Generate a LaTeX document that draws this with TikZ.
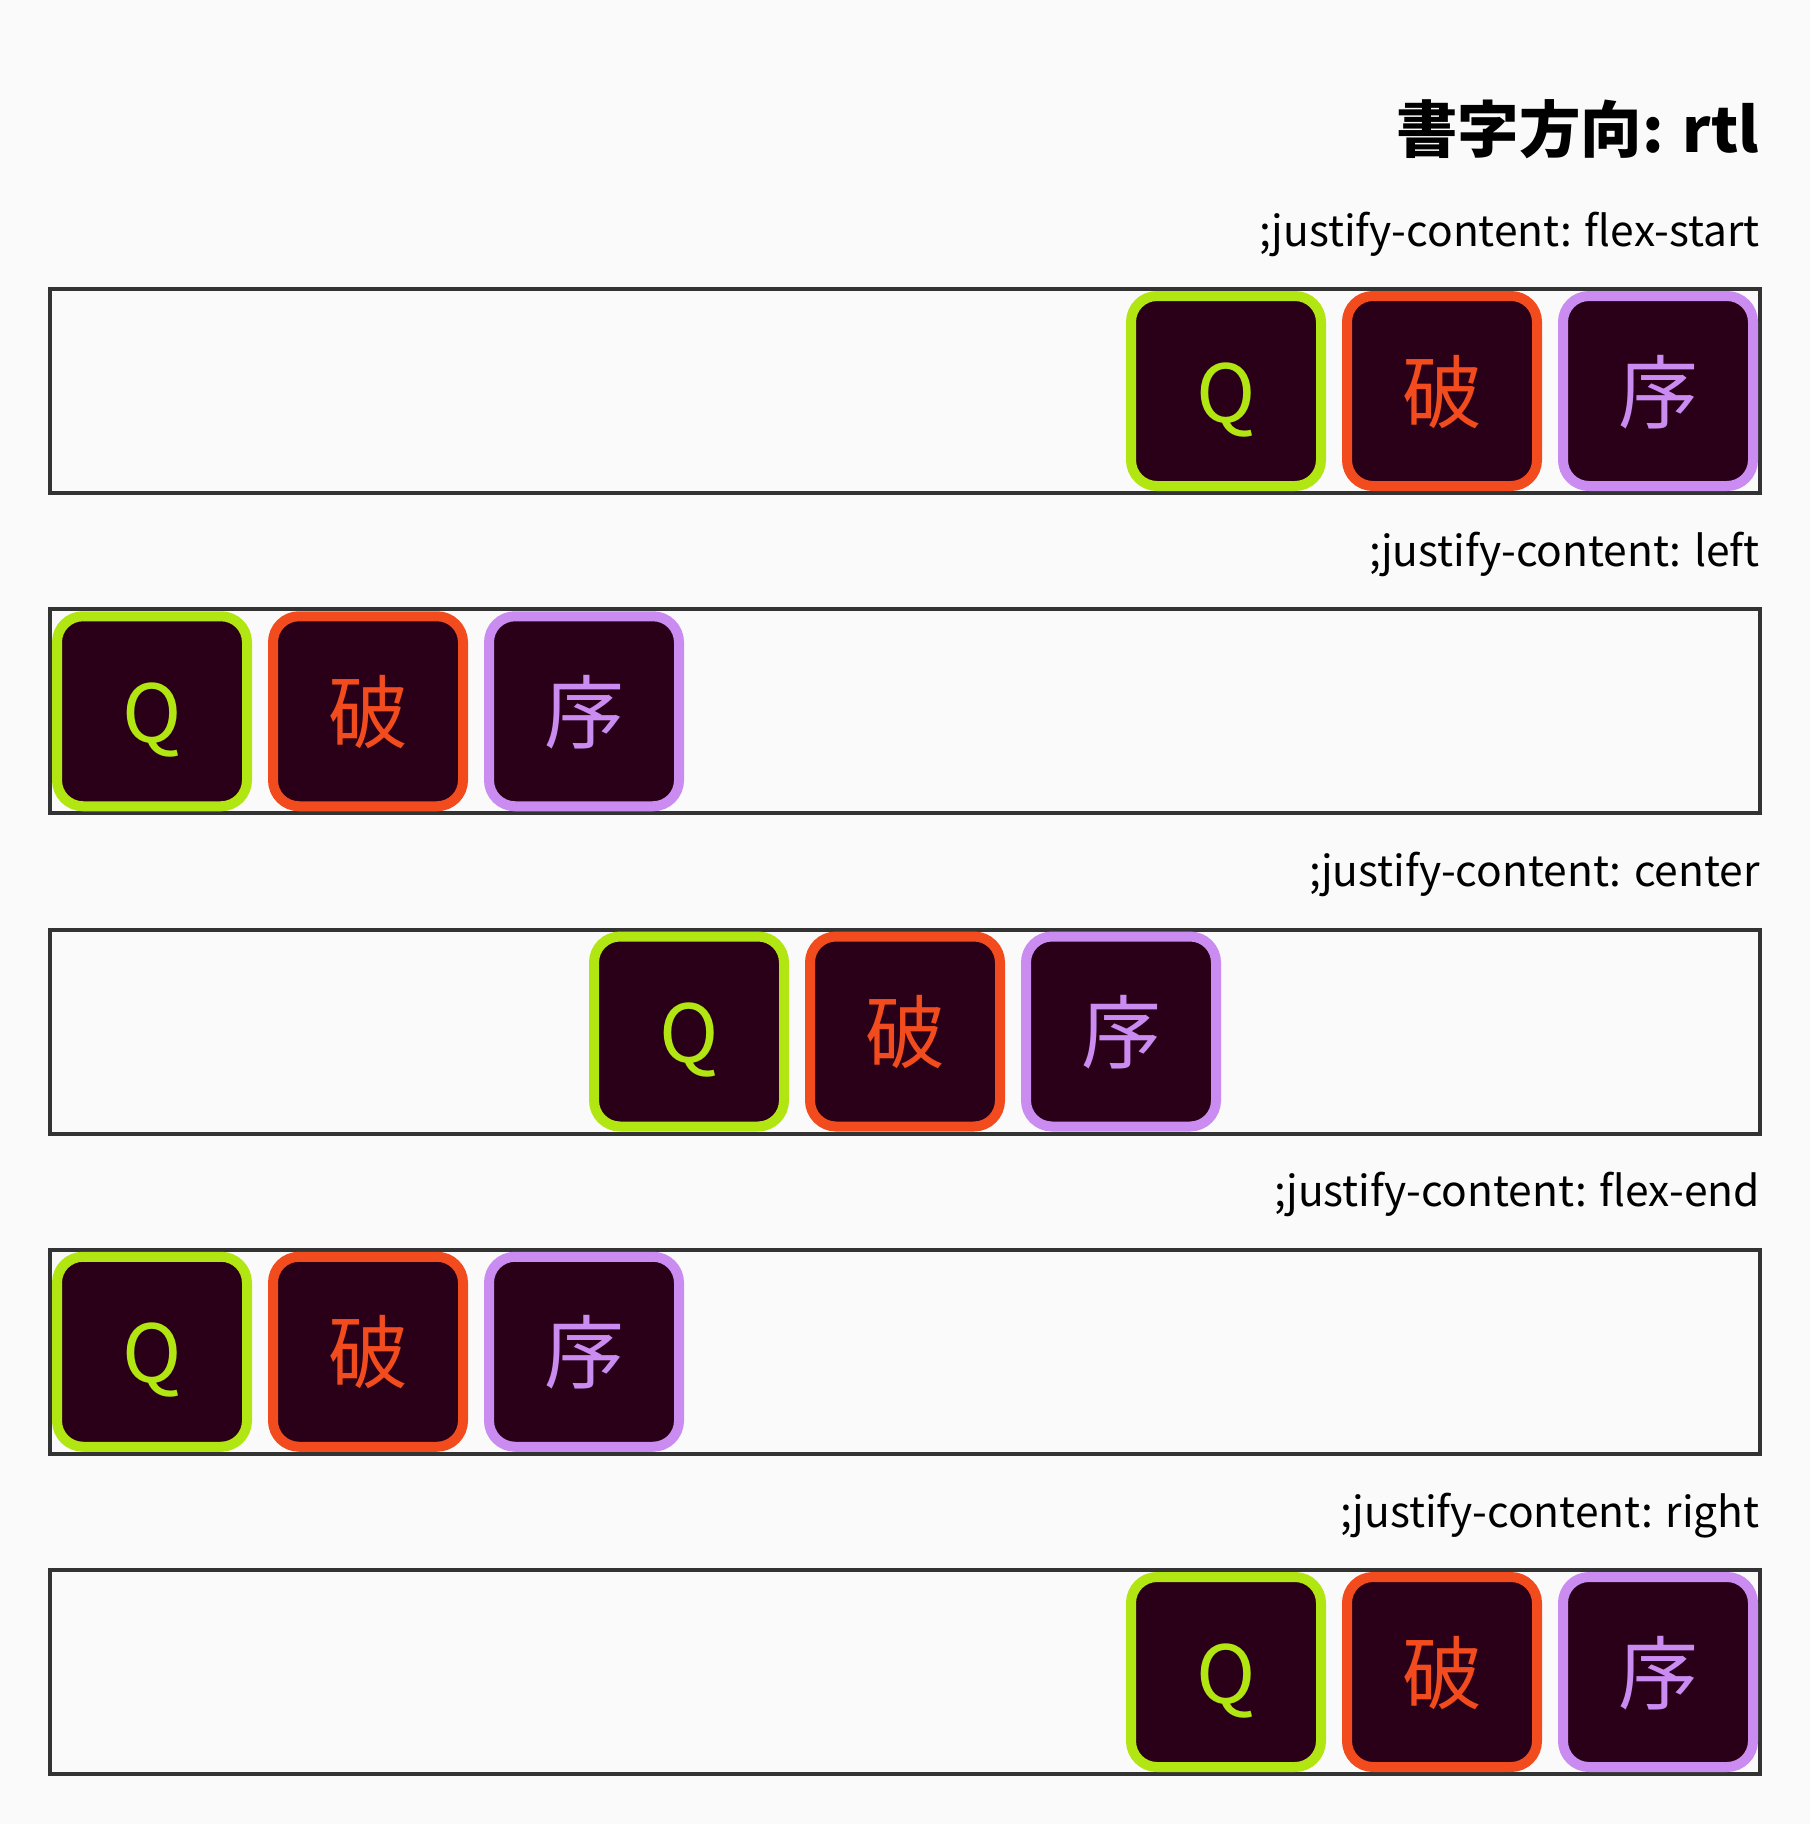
\documentclass[tikz,border=0pt]{standalone}
\usepackage{fontspec}
\setmainfont{Noto Sans CJK JP}
\usetikzlibrary{positioning}
\definecolor{pagebg}{RGB}{250,250,250}
\definecolor{framegray}{RGB}{51,51,51}
\definecolor{plum}{RGB}{42,0,24}
\definecolor{lime}{RGB}{178,230,18}
\definecolor{vermilion}{RGB}{242,76,30}
\definecolor{lavender}{RGB}{202,140,240}

\begin{document}
\begin{tikzpicture}[x=1pt, y=-1pt,
    flexbox/.style={draw=framegray, line width=4pt, fill=pagebg, inner sep=0pt,
                    minimum width=1710pt, minimum height=204pt},
    flexitem/.style={draw=#1, text=#1, fill=plum, line width=10pt, rounded corners=26pt,
                     inner sep=0pt, minimum size=190pt, text height=62pt, text depth=0pt,
                     font=\fontsize{80}{96}\selectfont},
    caption/.style={anchor=base east, inner sep=0pt, font=\fontsize{42.5}{50}\selectfont},
    node distance=16pt]
    % Page
    \fill[pagebg] (0,0) rectangle (1810,1824);
    \useasboundingbox (0,0) rectangle (1810,1824);
    % Heading
    \node[anchor=base east, inner sep=0pt, font=\fontsize{61.5}{74}\bfseries] (title)
        at (1759,152) {書字方向: rtl};
    % Rows
    \foreach \mode/\xs [count=\r] in {flex-start/1126, left/52, center/589, flex-end/52, right/1126} {
        \pgfmathsetmacro{\ytop}{287 + 320.25*(\r-1)}
        \node[caption] (cap\r) at (1760,\ytop-41) {;justify-content: \mode};
        \node[flexbox] (box\r) at (905,\ytop+104) {};
        \node[flexitem=lime]      (q\r)  at (\xs+100,\ytop+104) {Q};
        \node[flexitem=vermilion, right=of q\r]  (po\r) {破};
        \node[flexitem=lavender,  right=of po\r] (xu\r) {序};
    }
\end{tikzpicture}
\end{document}
